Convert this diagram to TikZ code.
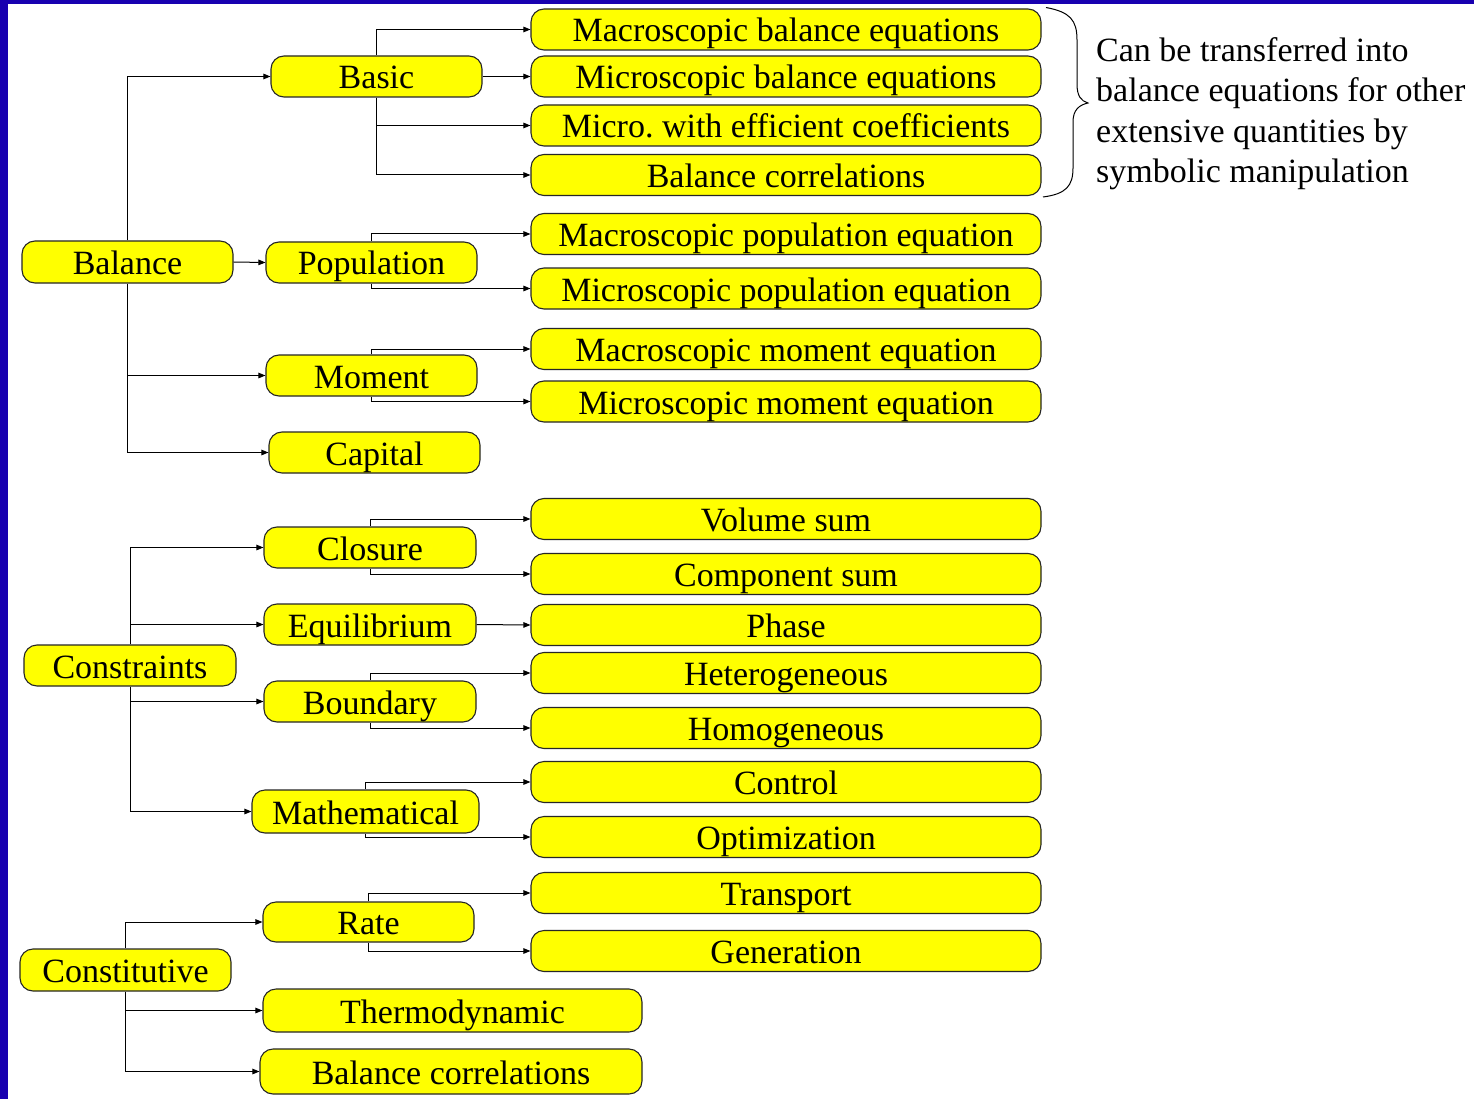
\documentclass[tikz,border=0pt]{standalone}
\usepackage{fontspec}
\setmainfont{Liberation Serif}
\usetikzlibrary{arrows.meta}
\definecolor{frameblue}{RGB}{24,0,176}
\definecolor{boxfill}{RGB}{255,255,0}
\begin{document}
\begin{tikzpicture}[x=1pt,y=-1pt,
  box/.style={draw=black!85, line width=1.1pt, fill=boxfill, rounded corners=13pt,
    inner sep=0pt, minimum height=41pt, text height=25pt, text depth=0pt,
    font=\fontsize{34}{40}\selectfont},
  leaf/.style={box, minimum width=510pt},
  mid/.style={box, minimum width=211pt},
  link/.style={line width=1pt, -{Triangle[length=7pt,width=5.5pt]}}]
\useasboundingbox (0,0) rectangle (1474,1099);
\fill[white] (0,0) rectangle (1474,1099);
% frame strips
\fill[frameblue] (0,0) rectangle (8,1099);
\fill[frameblue] (0,0) rectangle (1474,4);

% ---- Balance branch ----
\node[mid, minimum height=42pt] (balance) at (127.5,262) {Balance};
\node[mid] (basic) at (376.5,76.5) {Basic};
\node[mid] (population) at (371.5,262.5) {Population};
\node[mid] (moment) at (371.5,375.5) {Moment};
\node[mid] (capital) at (374.5,452.5) {Capital};

\node[leaf] (macbal) at (786,29.5) {Macroscopic balance equations};
\node[leaf] (micbal) at (786,76.5) {Microscopic balance equations};
\node[leaf] (miceff) at (786,125.5) {Micro.\ with efficient coefficients};
\node[leaf] (balcorr) at (786,175) {Balance correlations};
\node[leaf] (macpop) at (786,234) {Macroscopic population equation};
\node[leaf] (micpop) at (786,288.5) {Microscopic population equation};
\node[leaf] (macmom) at (786,349) {Macroscopic moment equation};
\node[leaf] (micmom) at (786,401.5) {Microscopic moment equation};

% ---- Constraints branch ----
\node[box, minimum width=212pt] (constraints) at (130,665.5) {Constraints};
\node[box, minimum width=212pt] (closure) at (370,547.5) {Closure};
\node[box, minimum width=212pt] (equilibrium) at (370,624.5) {Equilibrium};
\node[box, minimum width=212pt] (boundary) at (370,701.5) {Boundary};
\node[box, minimum width=227pt, minimum height=43pt] (mathematical) at (365.5,811.5) {Mathematical};

\node[leaf] (volsum) at (786,519) {Volume sum};
\node[leaf] (compsum) at (786,574) {Component sum};
\node[leaf] (phase) at (786,625) {Phase};
\node[leaf] (hetero) at (786,673) {Heterogeneous};
\node[leaf] (homo) at (786,728) {Homogeneous};
\node[leaf] (control) at (786,782) {Control};
\node[leaf] (optim) at (786,837) {Optimization};

% ---- Constitutive branch ----
\node[mid, minimum height=42pt] (constitutive) at (125.5,970) {Constitutive};
\node[mid, minimum height=40pt] (rate) at (368.5,922) {Rate};
\node[box, minimum width=379pt, minimum height=43pt] (thermo) at (452.5,1010.5) {Thermodynamic};
\node[box, minimum width=382pt, minimum height=45pt] (balcorrb) at (451,1071.5) {Balance correlations};

\node[leaf] (transport) at (786,893) {Transport};
\node[leaf] (generation) at (786,951) {Generation};

% ---- connectors ----
\draw[link] (balance.north) |- (basic.west);
\draw[link] (balance.east) -- (population.west);
\draw[link] (balance.south) |- (moment.west);
\draw[link] (balance.south) |- (capital.west);

\draw[link] (basic.north) |- (macbal.west);
\draw[link] (basic.east) -- (micbal.west);
\draw[link] (basic.south) |- (miceff.west);
\draw[link] (basic.south) |- (balcorr.west);

\draw[link] (population.north) |- (macpop.west);
\draw[link] (population.south) |- (micpop.west);
\draw[link] (moment.north) |- (macmom.west);
\draw[link] (moment.south) |- (micmom.west);

\draw[link] (constraints.north) |- (closure.west);
\draw[link] (constraints.north) |- (equilibrium.west);
\draw[link] (constraints.south) |- (boundary.west);
\draw[link] (constraints.south) |- (mathematical.west);

\draw[link] (closure.north) |- (volsum.west);
\draw[link] (closure.south) |- (compsum.west);
\draw[link] (equilibrium.east) -- (phase.west);
\draw[link] (boundary.north) |- (hetero.west);
\draw[link] (boundary.south) |- (homo.west);
\draw[link] (mathematical.north) |- (control.west);
\draw[link] (mathematical.south) |- (optim.west);

\draw[link] (constitutive.north) |- (rate.west);
\draw[link] (constitutive.south) |- (thermo.west);
\draw[link] (constitutive.south) |- (balcorrb.west);
\draw[link] (rate.north) |- (transport.west);
\draw[link] (rate.south) |- (generation.west);

% ---- brace and note ----
\coordinate (bracetop) at (1046,7.5);
\coordinate (bracetip) at (1088,103);
\coordinate (bracebot) at (1043,197);
\draw[line width=1pt] (bracetop) .. controls (1070,12) and (1077,20) .. (1077,40)
  -- (1077,84) .. controls (1077,96) and (1081,101) .. (bracetip)
  .. controls (1079,105) and (1073,110) .. (1073,122)
  -- (1073,168) .. controls (1073,186) and (1066,194) .. (bracebot);
\node[anchor=north west, align=left, inner sep=0pt,
  font=\fontsize{34}{40.5}\selectfont] (note) at (1096,37)
  {Can be transferred into\\balance equations for other\\extensive quantities by\\symbolic manipulation};
\end{tikzpicture}
\end{document}
